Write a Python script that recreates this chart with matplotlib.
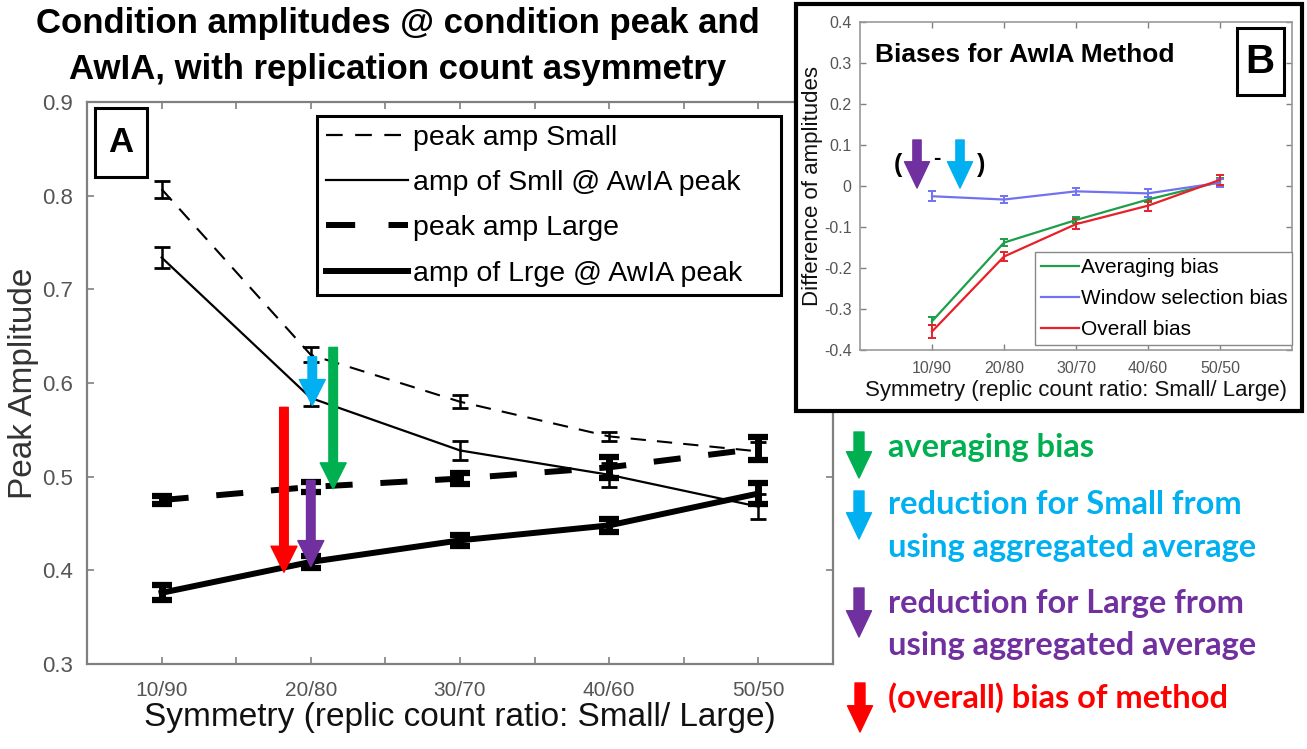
import matplotlib
matplotlib.use('Agg')
import matplotlib.pyplot as plt
from matplotlib.lines import Line2D
from matplotlib.patches import Rectangle, FancyArrowPatch

plt.rcParams['font.family'] = ['Liberation Sans', 'DejaVu Sans']
plt.rcParams['lines.scale_dashes'] = False

# ---- panel A data ----
ratios = ['10/90', '20/80', '30/70', '40/60', '50/50']
xpos = [1, 2, 3, 4, 5]
peak_small = [0.807, 0.630, 0.580, 0.543, 0.527]
peak_small_err = [0.009, 0.008, 0.007, 0.005, 0.010]
awia_small = [0.734, 0.584, 0.528, 0.502, 0.468]
awia_small_err = [0.011, 0.009, 0.010, 0.013, 0.013]
peak_large = [0.475, 0.489, 0.498, 0.510, 0.530]
peak_large_err = [0.004, 0.005, 0.006, 0.011, 0.012]
awia_large = [0.376, 0.409, 0.432, 0.448, 0.482]
awia_large_err = [0.008, 0.006, 0.006, 0.007, 0.011]

# ---- panel B data ----
avg_bias = [-0.330, -0.138, -0.083, -0.033, 0.010]
avg_bias_err = [0.010, 0.008, 0.008, 0.006, 0.010]
win_bias = [-0.025, -0.033, -0.013, -0.018, 0.008]
win_bias_err = [0.012, 0.008, 0.008, 0.010, 0.010]
all_bias = [-0.355, -0.172, -0.093, -0.048, 0.015]
all_bias_err = [0.015, 0.012, 0.012, 0.012, 0.012]

GREEN = '#00B050'
CYAN = '#00B0F0'
PURPLE = '#7030A0'
RED = '#FF0000'
GRAY = '#808080'
B_GREEN = '#1E9E4A'
B_BLUE = '#7272F0'
B_RED = '#E8202A'

W, H = 1307, 749
fig = plt.figure(figsize=(W / 100, H / 100), dpi=100)


def fx(px):
    return px / W


def fy(py):
    return 1 - py / H


# ================= panel A =================
ax = fig.add_axes([fx(87), fy(664), fx(833) - fx(87), fy(102) - fy(664)])
ax.set_zorder(0)

ax.errorbar(xpos, peak_small, yerr=peak_small_err, color='k', lw=1.5,
            dashes=(11, 8), elinewidth=1.8, capsize=6, capthick=2)
ax.errorbar(xpos, awia_small, yerr=awia_small_err, color='k', lw=1.6,
            elinewidth=1.8, capsize=6, capthick=2)
ax.errorbar(xpos, peak_large, yerr=peak_large_err, color='k', lw=4.3,
            dashes=(19.5, 20), dash_capstyle='butt', elinewidth=5,
            capsize=7, capthick=4.5)
ax.errorbar(xpos, awia_large, yerr=awia_large_err, color='k', lw=4.3,
            elinewidth=5, capsize=7, capthick=4.5)

ax.set_xlim(0.5, 5.5)
ax.set_ylim(0.3, 0.9)
ax.set_xticks(xpos)
ax.set_xticklabels(ratios, fontsize=15,
                   family=['Liberation Sans Narrow', 'Liberation Sans'])
ax.set_xticks([1.5, 2.5, 3.5, 4.5], minor=True)
ax.set_yticks([0.3, 0.4, 0.5, 0.6, 0.7, 0.8, 0.9])
ax.set_yticklabels(['0.3', '0.4', '0.5', '0.6', '0.7', '0.8', '0.9'], fontsize=16)
ax.tick_params(which='both', direction='in', top=True, right=True,
               color=GRAY, length=5, width=1.2, labelcolor='#555555')
ax.tick_params(axis='y', pad=10)
ax.tick_params(axis='x', pad=12)
for s in ax.spines.values():
    s.set_color(GRAY)
    s.set_linewidth(1.6)

ax.set_xlabel('Symmetry (replic count ratio: Small/ Large)', fontsize=24,
              color='#111111', labelpad=2)
ax.set_ylabel('Peak Amplitude', fontsize=24, color='#333333', labelpad=2)

handles = [
    Line2D([], [], color='k', lw=1.6, dashes=(12, 9)),
    Line2D([], [], color='k', lw=1.6),
    Line2D([], [], color='k', lw=4.3, dashes=(21, 24), dash_capstyle='butt'),
    Line2D([], [], color='k', lw=4.3),
]
labels = ['peak amp Small', 'amp of Smll @ AwIA peak', 'peak amp Large',
          'amp of Lrge @ AwIA peak']
leg = ax.legend(handles, labels, loc='upper left', mode='expand',
                bbox_to_anchor=(fx(317), fy(293), fx(781) - fx(317), fy(116) - fy(293)),
                bbox_transform=fig.transFigure, borderaxespad=0, fontsize=20.5,
                handlelength=2.88, handletextpad=0.2, labelspacing=0.68,
                borderpad=0.3, fancybox=False, framealpha=1, edgecolor='k')
leg.get_frame().set_linewidth(2.2)

# arrows inside panel A
a_arrows = [(1.82, 0.574, 0.398, RED), (2.0, 0.496, 0.404, PURPLE),
            (2.15, 0.638, 0.487, GREEN), (2.01, 0.628, 0.576, CYAN)]
for xa, top, tip, c in a_arrows:
    ax.annotate('', xy=(xa, tip), xytext=(xa, top),
                arrowprops=dict(arrowstyle='simple,head_length=1.0,head_width=1.0,tail_width=0.33',
                                mutation_scale=18.7, color=c, shrinkA=0, shrinkB=0),
                zorder=5)

# "A" label box
fig.add_artist(Rectangle((fx(95), fy(177)), fx(147) - fx(95), fy(108) - fy(177),
                         transform=fig.transFigure, facecolor='white',
                         edgecolor='k', lw=2.2, zorder=1))
fig.text(fx(121), fy(143), 'A', fontsize=25, fontweight='bold', ha='center',
         va='center', zorder=2)

# title
fig.text(fx(398), fy(23), 'Condition amplitudes @ condition peak and',
         fontsize=25, fontweight='bold', ha='center', va='center')
fig.text(fx(398), fy(70), 'AwIA, with replication count asymmetry',
         fontsize=25, fontweight='bold', ha='center', va='center')

# ================= panel B =================
fig.add_artist(Rectangle((fx(796), fy(411)), fx(1302) - fx(796), fy(4) - fy(411),
                         transform=fig.transFigure, facecolor='white',
                         edgecolor='k', lw=3, zorder=1))

bx = fig.add_axes([fx(860), fy(350), fx(1292) - fx(860), fy(22) - fy(350)])
bx.set_zorder(2)
bx.errorbar(xpos, avg_bias, yerr=avg_bias_err, color=B_GREEN, lw=1.6,
            elinewidth=1.4, capsize=3, capthick=1.4)
bx.errorbar(xpos, win_bias, yerr=win_bias_err, color=B_BLUE, lw=1.6,
            elinewidth=1.4, capsize=3, capthick=1.4)
bx.errorbar(xpos, all_bias, yerr=all_bias_err, color=B_RED, lw=1.6,
            elinewidth=1.4, capsize=3, capthick=1.4)
bx.set_xlim(0, 6)
bx.set_ylim(-0.4, 0.4)
bx.set_xticks(xpos)
bx.set_xticklabels(ratios, fontsize=11.5)
yt = [-0.4, -0.3, -0.2, -0.1, 0, 0.1, 0.2, 0.3, 0.4]
bx.set_yticks(yt)
bx.set_yticklabels(['-0.4', '-0.3', '-0.2', '-0.1', '0', '0.1', '0.2', '0.3', '0.4'],
                   fontsize=11.5)
bx.tick_params(which='both', direction='in', top=True, right=True,
               color=GRAY, length=4, width=1, labelcolor='#555555', pad=6)
bx.tick_params(axis='x', pad=8)
for s in bx.spines.values():
    s.set_color('#999999')
    s.set_linewidth(1.2)
bx.set_xlabel('Symmetry (replic count ratio: Small/ Large)', fontsize=16,
              color='#111111', labelpad=3)
bx.set_ylabel('Difference of amplitudes', fontsize=16, color='#111111', labelpad=1)

b_handles = [Line2D([], [], color=B_GREEN, lw=1.6),
             Line2D([], [], color=B_BLUE, lw=1.6),
             Line2D([], [], color=B_RED, lw=1.6)]
b_labels = ['Averaging bias', 'Window selection bias', 'Overall bias']
bleg = bx.legend(b_handles, b_labels, loc='upper left', mode='expand',
                 bbox_to_anchor=(fx(1035), fy(352), fx(1292) - fx(1035), fy(252) - fy(352)),
                 bbox_transform=fig.transFigure, borderaxespad=0, fontsize=15,
                 handlelength=1.8, handletextpad=0.1, labelspacing=0.57,
                 borderpad=0.3, fancybox=False, framealpha=1, edgecolor='#888888')
bleg.get_frame().set_linewidth(1.0)

bx.text(0.035, 0.9, 'Biases for AwIA Method', transform=bx.transAxes,
        fontsize=19, fontweight='bold', ha='left', va='center')
fig.add_artist(Rectangle((fx(1237), fy(95)), fx(1284) - fx(1237), fy(28) - fy(95),
                         transform=fig.transFigure, facecolor='white',
                         edgecolor='k', lw=2.2, zorder=3))
fig.text(fx(1260), fy(62), 'B', fontsize=29, fontweight='bold', ha='center',
         va='center', zorder=4)

# (purple - cyan) note
fig.text(fx(898), fy(165), '(', fontsize=18, fontweight='bold', ha='center',
         va='center', zorder=4)
fig.text(fx(937), fy(158), '-', fontsize=16, fontweight='bold', ha='center',
         va='center', zorder=4)
fig.text(fx(981), fy(165), ')', fontsize=18, fontweight='bold', ha='center',
         va='center', zorder=4)


def fig_arrow(xp, top, tip, c, scale=18.0, tail=0.4):
    fig.add_artist(FancyArrowPatch((fx(xp), fy(top)), (fx(xp), fy(tip)),
                                   transform=fig.transFigure,
                                   arrowstyle='simple,head_length=1.05,head_width=1.0,tail_width=%g' % tail,
                                   mutation_scale=scale, color=c, shrinkA=0, shrinkB=0,
                                   zorder=4))


fig_arrow(917, 140, 188, PURPLE, 18.0, 0.33)
fig_arrow(960, 140, 188, CYAN, 18.0, 0.33)

# ================= key on the right =================
key_font = ['Lato', 'DejaVu Sans']
fig_arrow(859, 432, 478, GREEN)
fig_arrow(859, 491, 539, CYAN)
fig_arrow(859, 588, 637, PURPLE)
fig_arrow(860, 683, 732, RED)
key_lines = [
    (448, 'averaging bias', GREEN),
    (505, 'reduction for Small from', CYAN),
    (547, 'using aggregated average', CYAN),
    (603, 'reduction for Large from', PURPLE),
    (645, 'using aggregated average', PURPLE),
    (698, '(overall) bias of method', RED),
]
for yy, txt, c in key_lines:
    fig.text(fx(888), fy(yy), txt, fontsize=23.5, fontweight='bold', color=c,
             family=key_font, ha='left', va='center')

fig.savefig('out.png', dpi=100)
